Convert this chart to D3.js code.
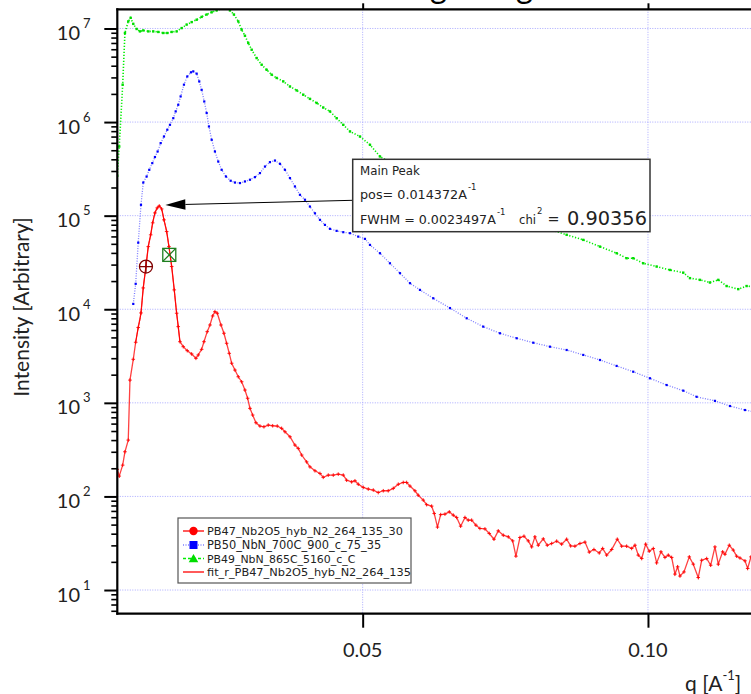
<!DOCTYPE html>
<html><head><meta charset="utf-8">
<script src="https://cdn.jsdelivr.net/npm/d3@7"></script>
<style>html,body{margin:0;padding:0;background:#fff;overflow:hidden}</style>
</head><body>
<script>
// ---------- data ----------
const qRed = [0.00699,0.00734,0.00794,0.00834,0.00892,0.00922,0.00980,0.01022,0.01067,0.01115,0.01155,0.01202,0.01243,0.01285,0.01320,0.01360,0.01400,0.01435,0.01477,0.01518,0.01565,0.01605,0.01653,0.01698,0.01740,0.01768,0.01798,0.01856,0.01926,0.02003,0.02078,0.02119,0.02178,0.02219,0.02276,0.02324,0.02371,0.02411,0.02452,0.02517,0.02569,0.02616,0.02662,0.02704,0.02762,0.02820,0.02879,0.02937,0.02984,0.03025,0.03072,0.03130,0.03200,0.03270,0.03345,0.03423,0.03503,0.03580,0.03638,0.03726,0.03813,0.03871,0.03931,0.04018,0.04076,0.04164,0.04252,0.04309,0.04397,0.04485,0.04572,0.04660,0.04719,0.04807,0.04865,0.04923,0.05010,0.05098,0.05186,0.05273,0.05361,0.05448,0.05536,0.05624,0.05711,0.05771,0.05829,0.05916,0.05974,0.06062,0.06121,0.06209,0.06254,0.06311,0.06367,0.06442,0.06518,0.06588,0.06647,0.06717,0.06793,0.06850,0.06910,0.06985,0.07055,0.07143,0.07219,0.07301,0.07376,0.07464,0.07552,0.07629,0.07686,0.07756,0.07827,0.07902,0.07962,0.08019,0.08077,0.08165,0.08235,0.08312,0.08400,0.08487,0.08575,0.08645,0.08720,0.08808,0.08896,0.08971,0.09053,0.09146,0.09206,0.09276,0.09364,0.09462,0.09539,0.09626,0.09714,0.09772,0.09830,0.09890,0.09960,0.10022,0.10093,0.10152,0.10228,0.10298,0.10356,0.10415,0.10473,0.10520,0.10561,0.10631,0.10724,0.10794,0.10881,0.10941,0.11029,0.11099,0.11174,0.11232,0.11309,0.11349,0.11425,0.11495,0.11554,0.11612,0.11700,0.11747,0.11805,0.11900];
const iRed = [195,165,216,300,400,1750,2920,4440,6390,9130,16900,28600,46700,62400,83800,107000,121000,127000,118000,90200,67600,46700,28600,16100,9070,6520,4500,3980,3610,3330,2990,3250,3730,4500,5760,6790,8480,9420,9060,6790,5540,4330,3380,2650,2240,1900,1680,1370,1120,873,741,613,565,555,579,569,565,534,491,434,354,326,277,234,207,188,176,160,169,169,173,169,149,143,147,135,125,120,117,110,115,115,122,135,141,141,129,115,103,91.3,81.7,78.8,65.8,47,63.9,64.7,68.4,63.1,59.6,48.1,59.6,55.8,55.8,49.3,45.5,45.0,40.2,34.9,42.9,38.5,37.0,33.5,23.0,36.4,37.6,33.5,28.9,37.0,30.1,35.2,30.1,31.4,33.3,30.9,34.9,29.6,29.4,31.4,32.5,25.4,27.1,24.9,27.8,23.6,27.1,34.9,29.4,29.4,27.8,30.1,23.6,21.7,30.9,26.0,27.8,19.5,25.6,22.3,23.6,22.3,14.8,17.7,14.1,15.6,22.6,18.9,13.6,20.8,21.7,18.4,28.9,18.9,25.6,24.1,30.1,26.7,23.0,22.0,20.5,17.0,22.6,23];

const qFit = [0.01022,0.01067,0.01115,0.01155,0.01202,0.01243,0.01285,0.01320,0.01360,0.01400,0.01435,0.01477,0.01518,0.01565,0.01605,0.01653,0.01698,0.01740,0.01768,0.01798];
const iFit = [4440,6390,9130,16900,28600,46700,62400,83800,107000,121000,127000,118000,90200,67600,46700,28600,16100,9070,6520,4500];

const qBlue = [0.00980,0.01022,0.01067,0.01115,0.01155,0.01214,0.01260,0.01313,0.01360,0.01407,0.01460,0.01518,0.01576,0.01623,0.01681,0.01723,0.01768,0.01810,0.01868,0.01926,0.01991,0.02031,0.02091,0.02136,0.02178,0.02224,0.02266,0.02306,0.02354,0.02411,0.02469,0.02529,0.02604,0.02687,0.02762,0.02850,0.02937,0.03025,0.03112,0.03200,0.03288,0.03375,0.03463,0.03551,0.03638,0.03726,0.03813,0.03901,0.03989,0.04076,0.04164,0.04252,0.04339,0.04427,0.04544,0.04660,0.04778,0.04923,0.05040,0.05128,0.05303,0.05478,0.05654,0.05829,0.06004,0.06237,0.06530,0.06823,0.07113,0.07406,0.07699,0.07990,0.08282,0.08575,0.08866,0.09159,0.09451,0.09742,0.10035,0.10327,0.10618,0.10853,0.11174,0.11437,0.11700,0.11875];
const iBlue = [11400,18700,51500,130500,226000,262000,309000,364000,423000,485000,596000,701000,828000,935000,1.10e6,1.30e6,1.53e6,1.88e6,2.51e6,3.07e6,3.40e6,3.48e6,3.29e6,2.72e6,2.21e6,1.66e6,1.25e6,897000,647000,485000,379000,309000,262000,236000,226000,223000,232000,242000,258000,285000,335000,373000,388000,358000,309000,252000,205000,167000,148000,125000,106000,90200,79700,72300,68800,66600,65000,59700,56500,48700,39700,31000,24300,19000,16100,13100,10300,8010,6520,5540,4900,4390,3980,3670,3250,2870,2480,2150,1830,1550,1350,1160,1050,925,838,797];

const qGreen = [0.00699,0.00734,0.00794,0.00834,0.00892,0.00934,0.00980,0.01039,0.01097,0.01155,0.01243,0.01330,0.01418,0.01505,0.01576,0.01653,0.01740,0.01828,0.01915,0.02003,0.02091,0.02178,0.02266,0.02354,0.02441,0.02529,0.02616,0.02674,0.02744,0.02820,0.02879,0.02937,0.02995,0.03055,0.03142,0.03230,0.03317,0.03405,0.03493,0.03608,0.03726,0.03843,0.03959,0.04076,0.04194,0.04309,0.04427,0.04544,0.04660,0.04778,0.04953,0.05128,0.05303,0.05654,0.06179,0.06705,0.07231,0.07756,0.08195,0.08575,0.08866,0.09159,0.09451,0.09626,0.09742,0.09917,0.10152,0.10385,0.10618,0.10736,0.10911,0.11086,0.11232,0.11379,0.11582,0.11729,0.11875];
const iGreen = [267000,548000,2.51e6,8.95e6,1.19e7,1.30e7,1.12e7,9.88e6,9.31e6,9.54e6,9.31e6,9.31e6,9.18e6,8.95e6,8.95e6,9.18e6,9.31e6,1.01e7,1.10e7,1.17e7,1.24e7,1.33e7,1.41e7,1.49e7,1.56e7,1.63e7,1.66e7,1.56e7,1.41e7,1.19e7,9.71e6,8.37e6,7.00e6,5.93e6,4.83e6,4.10e6,3.62e6,3.21e6,2.96e6,2.72e6,2.40e6,2.18e6,1.96e6,1.77e6,1.60e6,1.43e6,1.30e6,1.10e6,935000,794000,701000,572000,429000,324000,230000,163000,121000,92500,74100,62400,55100,46700,39700,35100,35100,31000,28600,26300,24600,21500,20600,19300,20600,17700,16400,17700,17300];

const seriesNames = ["PB47_Nb2O5_hyb_N2_264_135_30","PB50_NbN_700C_900_c_75_35","PB49_NbN_865C_5160_c_C","fit_r_PB47_Nb2O5_hyb_N2_264_135"];
const xTicks = [0.05, 0.10];
const yDecades = [1,2,3,4,5,6,7];
const peakPos = 0.014372, peakI = 127000;
const cursorA = {q:0.01202, I:28600};
const cursorB = {q:0.01611, I:38100};
const annotation = ["Main Peak","pos= 0.014372A","FWHM = 0.0023497A","chi","0.90356"];
const titleText = "Scattering along NbN";

// ---------- layout ----------
const W = 751, H = 694;
const L = 117.3, R = 762.1, T = 9.3, B = 613.7;
const x = d3.scaleLinear().domain([0.007, 0.12]).range([L, R]);
const y = d3.scaleLog().domain([5.585, 1.603e7]).range([B, T]);

const svg = d3.select("body").append("svg").attr("width", W).attr("height", H)
  .style("background", "#fff");

svg.append("defs").append("clipPath").attr("id","plot")
  .append("rect").attr("x", L).attr("y", T).attr("width", R-L).attr("height", B-T);

// title (lies above the visible area; only descenders show, as in the reference)
const title = svg.append("text").attr("font-family","Lato").attr("font-size",30)
  .attr("x",0).attr("y",-2).attr("fill","#000").text(titleText);
{
  const n = title.node();
  const g1 = n.getStartPositionOfChar(9).x, g2 = n.getStartPositionOfChar(15).x;
  const fs = 30 * 86 / (g2 - g1);
  title.attr("font-size", fs);
  const g1b = n.getStartPositionOfChar(9).x;
  title.attr("x", 430 - g1b);
}

// gridlines
const grid = svg.append("g").attr("stroke","#a9a9ff").attr("stroke-width",1).attr("stroke-dasharray","1,1.5");
grid.selectAll("line.h").data(yDecades).join("line")
  .attr("x1",L).attr("x2",R).attr("y1",d=>y(Math.pow(10,d))).attr("y2",d=>y(Math.pow(10,d)));
grid.selectAll("line.v").data(xTicks).join("line")
  .attr("y1",T).attr("y2",B).attr("x1",d=>x(d)).attr("x2",d=>x(d));

const plot = svg.append("g").attr("clip-path","url(#plot)");
const line = d3.line().x(d=>x(d[0])).y(d=>y(d[1]));

const green = d3.zip(qGreen, iGreen);
const blue = d3.zip(qBlue, iBlue);
const red = d3.zip(qRed, iRed);
const fit = d3.zip(qFit, iFit);

// green
plot.append("path").datum(green).attr("d",line).attr("fill","none")
  .attr("stroke","#00ee00").attr("stroke-width",1.6).attr("stroke-dasharray","1.2,1.8");
plot.selectAll("rect.gm").data(green).join("rect")
  .attr("x",d=>x(d[0])-1.2).attr("y",d=>y(d[1])-1.2).attr("width",2.4).attr("height",2.4).attr("fill","#00dd00");

// blue
plot.append("path").datum(blue).attr("d",line).attr("fill","none")
  .attr("stroke","#7b7bff").attr("stroke-width",1.3).attr("stroke-dasharray","1,1.5");
plot.selectAll("rect.bm").data(blue).join("rect")
  .attr("x",d=>x(d[0])-1.1).attr("y",d=>y(d[1])-1.1).attr("width",2.2).attr("height",2.2).attr("fill","#0000ff");

// red
plot.append("path").datum(red).attr("d",line).attr("fill","none")
  .attr("stroke","#ff2020").attr("stroke-width",1.3).attr("stroke-opacity",0.85);
plot.selectAll("path.rm").data(red).join("path")
  .attr("d",d=>`M${x(d[0])-1.8},${y(d[1])}h3.6M${x(d[0])},${y(d[1])-1.8}v3.6`)
  .attr("stroke","#ff0000").attr("stroke-width",0.9);
// fit
plot.append("path").datum(fit).attr("d",d3.line().curve(d3.curveMonotoneX).x(d=>x(d[0])).y(d=>y(d[1])))
  .attr("fill","none").attr("stroke","#ff0000").attr("stroke-width",1);

// cursors
{
  const cx = x(cursorA.q), cy = y(cursorA.I);
  const g = svg.append("g").attr("stroke","#800000").attr("stroke-width",1.3).attr("fill","none");
  g.append("circle").attr("cx",cx).attr("cy",cy).attr("r",6.5);
  g.append("path").attr("d",`M${cx-6.5},${cy}h13M${cx},${cy-6.5}v13`);
  const sx = x(cursorB.q), sy = y(cursorB.I);
  const g2 = svg.append("g").attr("stroke","#1f7f1f").attr("stroke-width",1.3).attr("fill","none");
  g2.append("rect").attr("x",sx-6.5).attr("y",sy-6.5).attr("width",13).attr("height",13);
  g2.append("path").attr("d",`M${sx-6.5},${sy-6.5}L${sx+6.5},${sy+6.5}M${sx+6.5},${sy-6.5}L${sx-6.5},${sy+6.5}`);
}

// arrow
{
  const tx = x(peakPos) + 6, ty = y(peakI) - 1;
  const bx = 352.7, by = 200.3;
  const ang = Math.atan2(by - ty, bx - tx);
  const hl = 20, hw = 5.3;
  const ex = tx + hl*Math.cos(ang), ey = ty + hl*Math.sin(ang);
  svg.append("line").attr("x1",ex).attr("y1",ey).attr("x2",bx).attr("y2",by).attr("stroke","#000").attr("stroke-width",1);
  const px = -Math.sin(ang)*hw, py = Math.cos(ang)*hw;
  svg.append("path").attr("d",`M${tx},${ty}L${ex+px},${ey+py}L${ex-px},${ey-py}Z`).attr("fill","#000");
}

function fitText(sel, w) {
  const n = sel.node();
  const cur = n.getComputedTextLength();
  const fs = parseFloat(sel.attr("font-size"));
  sel.attr("font-size", fs * w / cur);
  return sel;
}

// annotation box
{
  const g = svg.append("g").attr("font-family","DejaVu Sans").attr("fill","#000");
  g.append("rect").attr("x",352.7).attr("y",159.3).attr("width",297.3).attr("height",72.4)
    .attr("fill","#fff").attr("stroke","#333").attr("stroke-width",1.5);
  const t1 = g.append("text").attr("x",360).attr("y",175).attr("font-size",12).attr("fill","#222").text(annotation[0]);
  fitText(t1, 60);
  const t2 = g.append("text").attr("x",360).attr("y",198.5).attr("font-size",12).attr("fill","#222").text(annotation[1]);
  fitText(t2, 107);
  g.append("text").attr("x",468).attr("y",189.5).attr("font-size",8.5).attr("fill","#222").text("-1");
  const t3 = g.append("text").attr("x",360).attr("y",224).attr("font-size",12).attr("fill","#222").text(annotation[2]);
  fitText(t3, 136);
  g.append("text").attr("x",497).attr("y",214.5).attr("font-size",8.5).attr("fill","#222").text("-1");
  const t4 = g.append("text").attr("x",519).attr("y",224).attr("font-size",12).attr("fill","#222").text(annotation[3]);
  fitText(t4, 17);
  g.append("text").attr("x",537).attr("y",213.5).attr("font-size",8.5).attr("fill","#222").text("2");
  const eq = g.append("text").attr("x",547.5).attr("y",224).attr("font-size",22).attr("fill","#222").text("=");
  fitText(eq, 12);
  const t5 = g.append("text").attr("x",567).attr("y",224.5).attr("font-size",22).attr("fill","#222").text(annotation[4]);
  fitText(t5, 80);
}

// legend
{
  const g = svg.append("g");
  g.append("rect").attr("x",178).attr("y",518).attr("width",233).attr("height",65)
    .attr("fill","#fff").attr("stroke","#555").attr("stroke-width",1.2);
  const rows = [531, 545, 558.5, 572];
  const widths = [196, 174.5, 148.5, 204];
  const colors = ["#ff0000","#0000ff","#00dd00","#ff0000"];
  const dashes = [null, "1,1.5", "3,2", null];
  const lcolors = ["#ff0000","#8080ff","#00ee00","#ff0000"];
  rows.forEach((cy,i)=>{
    const l = g.append("line").attr("x1",183).attr("x2",204).attr("y1",cy).attr("y2",cy)
      .attr("stroke",lcolors[i]).attr("stroke-width",1.3);
    if (dashes[i]) l.attr("stroke-dasharray",dashes[i]);
    if (i===0) g.append("circle").attr("cx",193.5).attr("cy",cy).attr("r",4.2).attr("fill",colors[i]);
    if (i===1) g.append("rect").attr("x",189.5).attr("y",cy-4).attr("width",8).attr("height",8).attr("fill",colors[i]);
    if (i===2) g.append("path").attr("d",`M193.5,${cy-4.5}L198.3,${cy+3.8}L188.7,${cy+3.8}Z`).attr("fill",colors[i]);
    const t = g.append("text").attr("x",207).attr("y",cy+4).attr("font-family","DejaVu Sans")
      .attr("font-size",11).attr("fill","#222").text(seriesNames[i]);
    fitText(t, widths[i]);
  });
}

// axes
{
  const minors = [];
  for (let e=0; e<=7; e++) for (let m=2; m<=9; m++) {
    const v = m*Math.pow(10,e);
    if (v > 5.585 && v < 1.603e7) minors.push(v);
  }
  const ya = svg.append("g").attr("transform",`translate(${L},0)`)
    .call(d3.axisLeft(y).tickValues(minors).tickSize(6).tickFormat(""));
  ya.select(".domain").remove();
  ya.selectAll("line").attr("stroke","#000").attr("stroke-width",1.6);
  const yb = svg.append("g").attr("transform",`translate(${L},0)`)
    .call(d3.axisLeft(y).tickValues(yDecades.map(d=>Math.pow(10,d))).tickSize(13).tickFormat(""));
  yb.select(".domain").remove();
  yb.selectAll("line").attr("stroke","#000").attr("stroke-width",2);

  const xa = svg.append("g").attr("transform",`translate(0,${B})`)
    .call(d3.axisBottom(x).tickValues(xTicks).tickSize(14).tickFormat(""));
  xa.select(".domain").remove();
  xa.selectAll("line").attr("stroke","#000").attr("stroke-width",2);
  const xt = svg.append("g").attr("transform",`translate(0,${T})`)
    .call(d3.axisTop(x).tickValues(xTicks).tickSize(6).tickFormat(""));
  xt.select(".domain").remove();
  xt.selectAll("line").attr("stroke","#000").attr("stroke-width",2);

  // axis lines
  svg.append("line").attr("x1",L).attr("x2",L).attr("y1",T-1).attr("y2",B+1).attr("stroke","#000").attr("stroke-width",2.2);
  svg.append("line").attr("x1",L-1).attr("x2",W+20).attr("y1",B).attr("y2",B).attr("stroke","#000").attr("stroke-width",2.2);
  svg.append("line").attr("x1",L-1).attr("x2",W+20).attr("y1",T).attr("y2",T).attr("stroke","#000").attr("stroke-width",2.2);

  // y labels
  const lab = svg.append("g").attr("font-family","Lato").attr("fill","#222");
  yDecades.forEach(d=>{
    const yy = y(Math.pow(10,d));
    lab.append("text").attr("x",80).attr("y",yy+11.5).attr("text-anchor","end").attr("font-size",20).text("10");
    lab.append("text").attr("x",83).attr("y",yy-0.5).attr("font-size",13).text(String(d));
  });
  // x labels
  xTicks.forEach(v=>{
    lab.append("text").attr("x",x(v)).attr("y",656.5).attr("text-anchor","middle").attr("font-size",20)
      .text(d3.format(".2f")(v));
  });
  // axis titles
  const xtTitle = lab.append("text").attr("x",685).attr("y",691).attr("font-size",21);
  xtTitle.append("tspan").text("q [A");
  xtTitle.append("tspan").attr("dy",-11).attr("font-size",13).text("-1");
  xtTitle.append("tspan").attr("dy",11).text("]");
  lab.append("text").attr("transform","translate(29,307) rotate(-90)").attr("text-anchor","middle")
    .attr("font-size",21).text("Intensity [Arbitrary]");
}
</script>
</body></html>
